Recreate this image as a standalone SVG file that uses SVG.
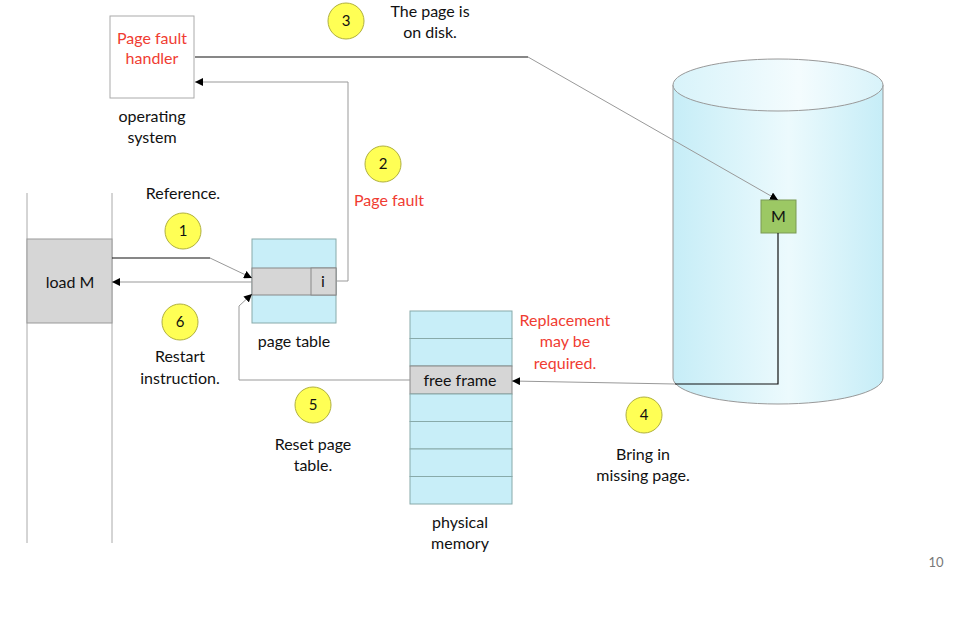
<svg xmlns="http://www.w3.org/2000/svg" width="974" height="618" viewBox="0 0 974 618">
<style>
text{font-family:"Lato","Liberation Sans",sans-serif;font-size:16px;fill:#111;text-anchor:middle}
.red{fill:#f03c32}
.num{font-size:15px}
.badge{fill:#ffff55;stroke:#b0b040;stroke-width:1}
.blk{fill:none;stroke:#111;stroke-width:1.2}
.gry{fill:none;stroke:#999;stroke-width:1}
.cell{fill:#c8eef8;stroke:#8aa;stroke-width:1}
.gcell{fill:#d6d6d6;stroke:#888;stroke-width:1}
</style>
<defs>
<marker id="ah" viewBox="0 0 10 10" refX="10" refY="5" markerWidth="8" markerHeight="8" markerUnits="userSpaceOnUse" orient="auto">
<path d="M0,0 L10,5 L0,10 z" fill="#000"/>
</marker>
<linearGradient id="cyl" x1="0" y1="0" x2="1" y2="0">
<stop offset="0" stop-color="#c6edf7"/>
<stop offset="0.55" stop-color="#ecfafd"/>
<stop offset="1" stop-color="#c6edf7"/>
</linearGradient>
<linearGradient id="cyltop" x1="0" y1="0" x2="1" y2="0">
<stop offset="0" stop-color="#d8f3fa"/>
<stop offset="0.6" stop-color="#f4fcfe"/>
<stop offset="1" stop-color="#d8f3fa"/>
</linearGradient>
</defs>
<rect width="974" height="618" fill="#fff"/>

<g id="disk">
<path d="M673,85 L673,378 A105,26 0 0 0 883,378 L883,85 Z" fill="url(#cyl)" stroke="#999" stroke-width="1"/>
<ellipse cx="778" cy="85" rx="105" ry="26" fill="url(#cyltop)" stroke="#999" stroke-width="1"/>
</g>

<g id="process">
<line x1="27" y1="193" x2="27" y2="543" stroke="#aaa" stroke-width="1"/>
<line x1="112" y1="193" x2="112" y2="543" stroke="#aaa" stroke-width="1"/>
<rect x="27" y="239" width="85" height="84" fill="#d6d6d6" stroke="#999"/>
<text x="70" y="288">load M</text>
</g>

<g id="handler">
<rect x="110" y="16" width="84" height="82" fill="#fff" stroke="#aaa"/>
<text class="red" x="152" y="44">Page fault</text>
<text class="red" x="152" y="64">handler</text>
<text x="152" y="122">operating</text>
<text x="152" y="143">system</text>
</g>

<g id="pagetable">
<rect class="cell" x="252" y="239" width="84" height="84"/>
<rect class="gcell" x="252" y="268" width="84" height="27"/>
<rect class="gcell" x="311" y="268" width="25" height="27"/>
<text x="323" y="287">i</text>
<text x="294" y="347">page table</text>
</g>

<g id="physmem">
<rect class="cell" x="410" y="311" width="102" height="27.5"/>
<rect class="cell" x="410" y="338.5" width="102" height="27.5"/>
<rect class="gcell" x="410" y="366" width="102" height="28"/>
<rect class="cell" x="410" y="394" width="102" height="27.5"/>
<rect class="cell" x="410" y="421.5" width="102" height="27.5"/>
<rect class="cell" x="410" y="449" width="102" height="27.5"/>
<rect class="cell" x="410" y="476.5" width="102" height="27.5"/>
<text x="460" y="386">free frame</text>
<text x="460" y="528">physical</text>
<text x="460" y="549">memory</text>
</g>

<g id="pageM">
<rect x="761" y="200" width="35" height="33" fill="#9cc864" stroke="#7a9a55"/>
<text x="778.5" y="222">M</text>
</g>

<g id="connectors">
<path class="blk" d="M112,258 L210,258"/>
<path class="gry" d="M210,258 L252,278" marker-end="url(#ah)"/>
<path class="gry" d="M336,281 L348,281 L348,82 L195,82" marker-end="url(#ah)"/>
<path class="blk" d="M195,57 L528,57"/>
<path class="gry" d="M528,57 L778,200" marker-end="url(#ah)"/>
<path class="blk" d="M778,233 L778,384 L675,384"/>
<path class="gry" d="M675,384 L512,381" marker-end="url(#ah)"/>
<path class="gry" d="M410,380 L239,380 L239,306 L252,294" marker-end="url(#ah)"/>
<path class="gry" d="M252,282 L112,282" marker-end="url(#ah)"/>
</g>

<g id="step1">
<circle class="badge" cx="183" cy="231" r="18"/>
<text class="num" x="183" y="236">1</text>
<text x="183" y="199">Reference.</text>
</g>
<g id="step2">
<circle class="badge" cx="383" cy="164" r="18"/>
<text class="num" x="383" y="169">2</text>
<text class="red" x="389" y="206">Page fault</text>
</g>
<g id="step3">
<circle class="badge" cx="346" cy="21" r="18"/>
<text class="num" x="346" y="26">3</text>
<text x="430" y="17">The page is</text>
<text x="430" y="38">on disk.</text>
</g>
<g id="step4">
<circle class="badge" cx="644" cy="415" r="18"/>
<text class="num" x="644" y="420">4</text>
<text x="643" y="460">Bring in</text>
<text x="643" y="481">missing page.</text>
<text class="red" x="565" y="326">Replacement</text>
<text class="red" x="565" y="347">may be</text>
<text class="red" x="565" y="369">required.</text>
</g>
<g id="step5">
<circle class="badge" cx="313" cy="405" r="18"/>
<text class="num" x="313" y="410">5</text>
<text x="313" y="450">Reset page</text>
<text x="313" y="471">table.</text>
</g>
<g id="step6">
<circle class="badge" cx="180" cy="322" r="18"/>
<text class="num" x="180" y="327">6</text>
<text x="180" y="362">Restart</text>
<text x="180" y="384">instruction.</text>
</g>

<text x="936" y="567" style="font-size:13px;fill:#777">10</text>
</svg>
